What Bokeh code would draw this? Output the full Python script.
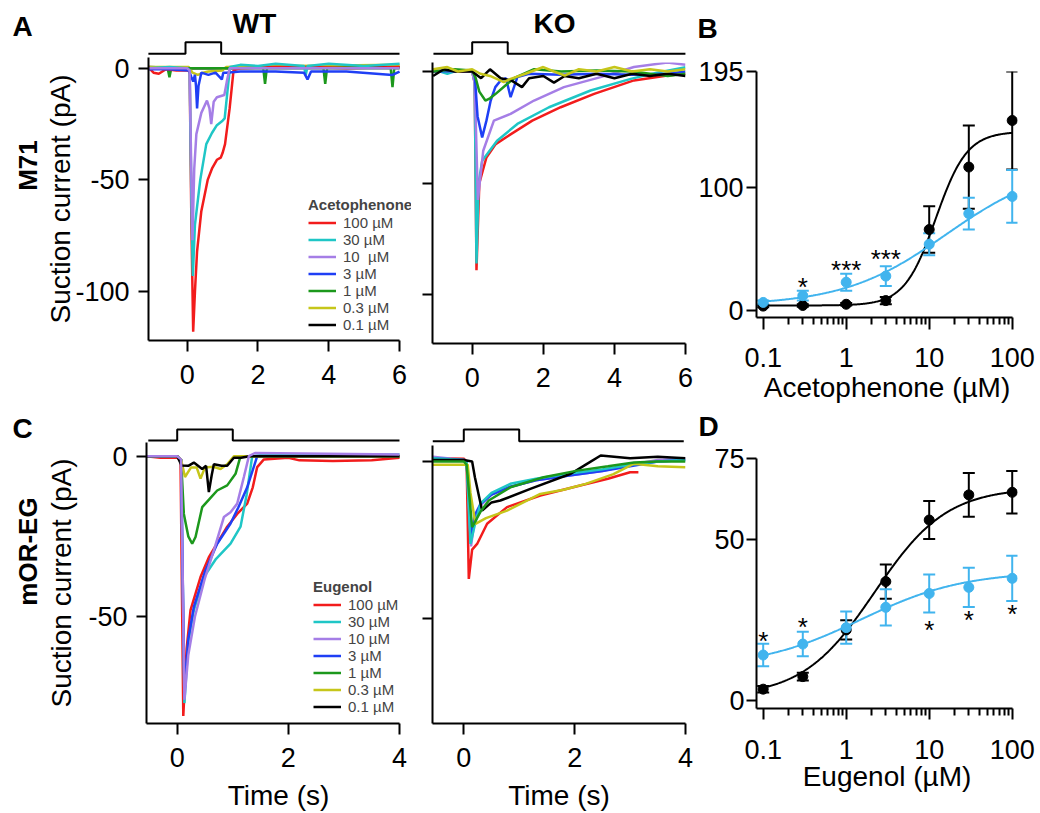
import numpy as np
from bokeh.plotting import figure
from bokeh.layouts import row, column
from bokeh.models import (Range1d, FixedTicker, Label, Legend, LegendItem,
                          ColumnDataSource, Whisker, TeeHead)
from bokeh.core.properties import value
from bokeh.embed import file_html
from bokeh.resources import INLINE

FONT = "Liberation Sans"
RED, CYAN, PURPLE, BLUE = "#f21c1c", "#1fc6c6", "#a57ee6", "#1f3ff5"
GREEN, YELLOW, BLACK, SKY = "#1c981c", "#c6c61a", "#000000", "#41b4ee"
TRACE_W = 2.5

# ---------------- data: legends ----------------
ace_labels = ["100 µM", "30 µM", "10  µM", "3 µM", "1 µM", "0.3 µM", "0.1 µM"]
eug_labels = ["100 µM", "30 µM", "10 µM", "3 µM", "1 µM", "0.3 µM", "0.1 µM"]

# ---------------- data: stimulus (odor on 0-1 s) ----------------
stim_a_wt_t = [-1.04, 0, 0, 1, 1, 6]
stim_a_ko_t = [-1.09, 0, 0, 1, 1, 6]
stim_c_wt_t = [-0.52, 0, 0, 1, 1, 4]
stim_c_ko_t = [-0.56, 0, 0, 1, 1, 3.97]
stim_level = [0, 0, 1, 1, 0, 0]

# ---------------- data: A, WT (acetophenone), time s / current pA ----------------
aw100_t = [-1.1, -0.95, -0.8, -0.6, -0.3, 0.0, 0.07, 0.12, 0.17, 0.22, 0.28, 0.4, 0.58, 0.7, 0.84, 0.95, 1.0, 1.07, 1.2, 1.31, 1.5, 2.5, 3.5, 4.5, 6.0]
aw100_i = [0.5, -2.0, -2.5, -0.5, -1.0, -1.0, -1.5, -70, -118, -100, -82, -64, -50, -45, -41, -40, -38, -34, -18, -1.0, 0.0, 0.5, 0.5, 0.0, 0.5]
aw30_t = [-1.1, -0.5, 0.0, 0.07, 0.12, 0.16, 0.22, 0.37, 0.54, 0.7, 0.84, 1.0, 1.06, 1.14, 1.21, 1.5, 2.0, 2.5, 3.3, 3.35, 3.4, 4.0, 5.0, 6.0]
aw30_i = [0.0, 0.5, 0.0, -1.0, -60, -93, -70, -50, -34, -29, -25.5, -23.5, -22.5, -10, 0.5, 1.5, 1.0, 2.0, 1.0, -3.0, 1.0, 2.0, 1.0, 2.0]
aw10_t = [-1.1, 0.0, 0.07, 0.11, 0.15, 0.2, 0.26, 0.4, 0.56, 0.63, 0.68, 0.75, 0.84, 1.05, 1.12, 1.2, 1.5, 3.0, 6.0]
aw10_i = [0.0, 0.0, -1.0, -40, -77, -45, -29.5, -20, -14.5, -18, -25, -15, -13, -12, -6, 0.0, 0.0, 0.0, 0.0]
aw3_t = [-1.1, -0.5, 0.05, 0.12, 0.17, 0.22, 0.25, 0.28, 0.32, 0.4, 0.6, 0.8, 0.98, 1.02, 1.1, 1.5, 2.5, 3.3, 3.4, 3.5, 4.5, 5.8, 6.0]
aw3_i = [-0.5, -0.5, -1.0, -4.0, -6.0, -3.0, -8.0, -18, -8.0, -2.0, -3.0, -2.0, -5.0, -2.0, -2.0, -1.5, -1.5, -2.0, -5.0, -1.5, -1.5, -3.0, -1.5]
aw1_t = [-1.1, -0.55, -0.5, -0.45, 0.0, 1.0, 2.15, 2.2, 2.25, 3.85, 3.9, 3.95, 5.75, 5.8, 5.85, 6.0]
aw1_i = [0.0, 0.0, -4.0, 0.0, 0.0, 0.0, 0.0, -7.0, 0.0, 0.0, -7.0, 0.0, 0.0, -8.5, 0.0, 0.0]
aw03_t = [-1.1, 0.05, 0.15, 0.3, 0.45, 0.6, 1.0, 1.1, 3.0, 6.0]
aw03_i = [0.5, 0.5, -2.0, -3.0, -2.0, -1.5, -1.0, 0.5, 1.0, 1.5]
aw01_t = [-1.1, 0.0, 1.0, 3.0, 6.0]
aw01_i = [0.5, 0.0, 0.0, 0.5, 0.5]

# ---------------- data: A, KO ----------------
ak100_t = [-1.1, 0.0, 0.07, 0.12, 0.2, 0.4, 0.66, 1.0, 1.69, 2.49, 3.43, 4.55, 5.49, 6.0]
ak100_i = [0.0, 0.0, -5.0, -89, -50, -38.5, -32.5, -29, -22, -16, -10, -4.0, -1.8, -1.0]
ak30_t = [-1.1, -0.7, -0.4, 0.0, 0.07, 0.12, 0.18, 0.28, 0.7, 1.27, 2.16, 3.33, 4.46, 5.2, 6.0]
ak30_i = [1.0, -1.0, 0.5, 0.0, -5.0, -86, -50, -40, -31, -23.5, -16, -8.5, -3.3, -0.5, 1.9]
ak10_t = [-1.1, 0.0, 0.07, 0.16, 0.31, 0.61, 1.08, 1.74, 2.58, 3.61, 4.55, 5.49, 6.0]
ak10_i = [0.5, 0.0, -5.0, -57.5, -35.5, -22, -19, -13, -7.0, -2.5, 2.0, 4.0, 3.0]
ak3_t = [-1.1, 0.0, 0.07, 0.15, 0.28, 0.4, 0.52, 0.65, 0.8, 0.95, 1.08, 1.27, 1.6, 2.5, 3.5, 4.5, 5.5, 6.0]
ak3_i = [0.0, 0.5, -1.0, -20, -29.5, -22, -13, -7.0, -4.0, -3.0, -11.5, -2.5, -1.0, -1.5, -1.0, -1.5, -1.0, 0.0]
ak1_t = [-1.1, -0.5, 0.0, 0.1, 0.2, 0.37, 0.5, 0.66, 0.99, 1.22, 1.74, 2.5, 3.5, 4.5, 5.5, 6.0]
ak1_i = [0.0, 1.0, 0.5, -3.0, -9.0, -13, -12, -10, -5.5, -2.6, 1.0, 0.0, 0.5, 0.0, -2.0, -1.0]
ak03_t = [-1.1, -0.7, -0.4, 0.0, 0.23, 0.5, 0.89, 1.08, 1.5, 2.0, 2.3, 2.6, 3.0, 3.5, 4.0, 4.5, 5.0, 5.5, 6.0]
ak03_i = [1.0, 2.0, 0.0, 1.0, -1.0, -2.0, -4.8, -3.3, -1.0, 2.0, 0.0, -1.8, 1.0, 0.0, 2.0, 0.0, 1.0, 0.0, 1.0]
ak01_t = [-1.1, -0.8, -0.5, 0.0, 0.25, 0.5, 0.8, 1.1, 1.4, 1.6, 2.0, 2.3, 2.6, 3.0, 3.5, 4.0, 4.5, 5.0, 5.5, 6.0]
ak01_i = [-2.0, 1.0, 0.0, 0.0, -3.0, 1.0, -3.0, -4.0, -7.0, -3.0, -2.0, -5.0, -2.0, -3.0, -1.0, -3.0, -1.0, -2.0, -1.0, -2.0]

# ---------------- data: C, WT (eugenol) ----------------
cw100_t = [-0.56, -0.3, 0.0, 0.06, 0.11, 0.17, 0.24, 0.42, 0.57, 0.9, 1.08, 1.26, 1.36, 1.44, 1.56, 2.0, 2.2, 2.8, 3.5, 4.0]
cw100_i = [0.0, -0.5, -0.5, -1.0, -81, -60, -48, -37.7, -31.5, -22, -18, -14.8, -9.7, -3.4, -1.0, -0.5, -1.3, -1.5, -1.3, -0.5]
cw30_t = [-0.56, 0.0, 0.07, 0.13, 0.2, 0.3, 0.48, 0.7, 0.96, 1.14, 1.25, 1.35, 1.6, 4.0]
cw30_i = [0.0, 0.0, -1.0, -77, -58, -48, -37.7, -32, -27.3, -22, -12, 0.0, 0.5, 0.5]
cw10_t = [-0.56, 0.0, 0.07, 0.13, 0.2, 0.32, 0.5, 0.66, 0.84, 0.96, 1.08, 1.2, 1.29, 1.4, 4.0]
cw10_i = [0.0, 0.0, -1.0, -76, -62, -50, -38, -29.4, -19, -17.5, -14.8, -6.5, 0.0, 1.0, 0.5]
cw3_t = [-0.56, 0.0, 0.07, 0.13, 0.2, 0.3, 0.5, 0.72, 0.96, 1.1, 1.26, 1.44, 1.6, 4.0]
cw3_i = [0.0, 0.0, -1.0, -74, -57, -47, -36, -27.3, -21, -16, -9.7, 0.0, 0.0, 0.0]
cw1_t = [-0.56, 0.0, 0.07, 0.12, 0.2, 0.27, 0.33, 0.45, 0.6, 0.72, 0.9, 1.05, 1.14, 1.3, 4.0]
cw1_i = [0.0, 0.0, -1.0, -18, -25, -27.3, -25.2, -15.9, -13, -10.7, -9.1, -5.5, 0.0, 0.0, 0.0]
cw03_t = [-0.56, 0.0, 0.07, 0.14, 0.25, 0.35, 0.42, 0.5, 0.65, 0.78, 0.9, 1.02, 4.0]
cw03_i = [0.0, 0.0, -1.0, -6.5, -3.5, -3.5, -7.0, -3.5, -3.3, -4.0, -2.5, 0.0, 0.0]
cw01_t = [-0.56, 0.0, 0.08, 0.2, 0.3, 0.45, 0.52, 0.57, 0.62, 0.66, 0.8, 0.9, 1.02, 1.15, 1.3, 4.0]
cw01_i = [0.0, 0.0, -2.9, -3.0, -2.0, -4.0, -3.0, -11.2, -6.0, -2.5, -3.0, -3.0, -0.5, -0.5, 0.0, 0.0]

# ---------------- data: C, KO ----------------
ck100_t = [-0.56, 0.0, 0.05, 0.09, 0.15, 0.24, 0.42, 0.78, 1.38, 2.1, 2.6, 3.0, 3.15]
ck100_i = [1.0, 0.9, 0.0, -37.3, -28, -26.2, -19.8, -14.5, -10.8, -7.6, -5.5, -3.4, -3.4]
ck30_t = [-0.56, 0.0, 0.05, 0.12, 0.2, 0.3, 0.5, 0.84, 1.3, 1.87, 2.5, 3.0, 3.5, 4.0]
ck30_i = [1.0, 0.5, 0.0, -26.2, -20, -13.4, -10, -7.1, -5.5, -3.9, -2.5, -1.0, 0.0, 0.5]
ck10_t = [-0.56, 0.0, 0.05, 0.13, 0.2, 0.3, 0.5, 0.84, 1.3, 1.87, 2.5, 3.0, 3.5, 4.0]
ck10_i = [1.5, 0.5, 0.0, -27, -18, -14, -10.5, -8.0, -6.0, -4.5, -3.0, -1.0, 0.5, 1.0]
ck3_t = [-0.56, 0.0, 0.05, 0.14, 0.2, 0.3, 0.5, 0.84, 1.3, 1.87, 2.5, 3.0, 3.5, 4.0]
ck3_i = [1.0, 0.5, 0.0, -24, -17, -13.5, -10.5, -8.0, -6.0, -4.5, -3.0, -1.5, 0.0, 0.5]
ck1_t = [-0.56, 0.0, 0.05, 0.15, 0.3, 0.45, 0.84, 1.44, 2.05, 2.6, 3.07, 3.5, 4.0]
ck1_i = [0.0, 0.0, -1.0, -20.9, -16, -12.4, -8.2, -5.0, -2.9, -1.5, -0.3, 0.0, 0.0]
ck03_t = [-0.56, 0.0, 0.07, 0.12, 0.21, 0.4, 0.78, 1.38, 1.8, 2.2, 2.7, 3.07, 3.5, 4.0]
ck03_i = [-1.0, -1.0, -1.0, -10, -19.8, -18, -15.6, -10.3, -9.0, -7.1, -4.0, -0.7, -1.5, -1.8]
ck01_t = [-0.56, 0.0, 0.15, 0.2, 0.33, 0.5, 0.66, 1.2, 1.93, 2.2, 2.47, 3.0, 3.5, 4.0]
ck01_i = [0.5, 0.5, 0.0, -5.0, -15.6, -13, -12.4, -8.7, -3.9, -1.0, 1.9, 1.0, 1.5, 1.0]

# ---------------- data: dose-response (B: acetophenone, D: eugenol) ----------------
conc = [0.1, 0.3, 1, 3, 10, 30, 100]
b_wt_mean = [3.5, 4, 5, 8, 66, 117, 155]
b_wt_err = [1, 1, 1, 3, 19, 34, 40]
b_ko_mean = [6.5, 12, 23, 28, 54, 79, 93]
b_ko_err = [1.5, 4, 7, 8, 9, 13, 21.5]
b_wt_fit = [4, 146, 12, 2.3]      # bottom, top, EC50, Hill slope
b_ko_fit = [4, 120, 16, 0.7]
b_star_x = [0.3, 1, 3]
b_star_y = [19.3, 32.7, 41.6]
b_star_txt = ["*", "***", "***"]

d_wt_mean = [3.4, 7.3, 21.8, 36.8, 55.9, 63.7, 64.5]
d_wt_err = [1, 1.2, 3, 5.3, 5.9, 6.8, 6.6]
d_ko_mean = [14, 17.4, 22.5, 28.8, 33.1, 35.0, 37.8]
d_ko_err = [3.5, 3.8, 5, 5.6, 5.9, 6.1, 7.0]
d_wt_fit = [1, 66, 2.2, 1.0]
d_ko_fit = [10, 40, 1.5, 0.7]
d_star_x = [0.1, 0.3, 10, 30, 100]
d_star_y = [18.4, 22.6, 21.8, 24.9, 26.8]
d_star_txt = ["*", "*", "*", "*", "*"]


# ---------------- helpers ----------------
def style_axis(ax, tick_out, standoff, size="27px"):
    ax.axis_line_width = 2
    ax.axis_line_color = "black"
    ax.major_tick_line_width = 2
    ax.major_tick_line_color = "black"
    ax.major_tick_in = 0
    ax.major_tick_out = tick_out
    ax.minor_tick_in = 0
    ax.minor_tick_out = 0
    ax.minor_tick_line_width = 2
    ax.minor_tick_line_color = "black"
    ax.major_label_text_font = FONT
    ax.major_label_text_font_size = size
    ax.major_label_text_color = "black"
    ax.major_label_standoff = standoff
    ax.axis_label_text_font = FONT
    ax.axis_label_text_font_size = "28px"
    ax.axis_label_text_font_style = "normal"
    ax.axis_label_text_color = "black"


def new_fig(w, h, xr, yr, **kw):
    p = figure(width=w, height=h, x_range=Range1d(*xr), y_range=Range1d(*yr),
               toolbar_location=None, output_backend="svg", **kw)
    p.frame_align = False
    p.outline_line_color = None
    return p


def set_borders(p, l, r, t, b):
    p.min_border_left = l
    p.min_border_right = r
    p.min_border_top = t
    p.min_border_bottom = b


def plain_fig(w, h, xr=(0, 1), yr=(0, 1)):
    p = new_fig(w, h, xr, yr, x_axis_type=None, y_axis_type=None)
    set_borders(p, 0, 0, 0, 0)
    return p


def stim_fig(w, h, xr, yr, stim_t):
    p = plain_fig(w, h, xr, yr)
    p.line(stim_t, stim_level, line_color="black", line_width=2)
    return p


def trace_fig(w, h, xr, xbounds, yr, borders, xticks, yticks, show_ylabels, ylab_standoff=0):
    p = new_fig(w, h, xr, yr)
    set_borders(p, *borders)
    p.xgrid.visible = False
    p.ygrid.visible = False
    xa, ya = p.xaxis[0], p.yaxis[0]
    style_axis(xa, 11, 13)
    style_axis(ya, 10, 9)
    xa.bounds = xbounds
    xa.ticker = FixedTicker(ticks=xticks)
    ya.ticker = FixedTicker(ticks=yticks)
    if show_ylabels:
        ya.major_label_overrides = {v: f"{v:g}" for v in yticks}
        ya.axis_label = "Suction current (pA)"
        ya.axis_label_standoff = ylab_standoff
    else:
        ya.major_label_overrides = {v: "" for v in yticks}
        ya.major_label_standoff = 0
    return p


def draw_traces(p, traces, order):
    rs = {}
    for k in order:
        t, i, c = traces[k]
        rs[k] = p.line(t, i, line_color=c, line_width=TRACE_W)
    return [rs[k] for k in range(len(traces))]


def add_legend(p, renderers, labels, title, loc):
    items = [LegendItem(label=l, renderers=[r]) for l, r in zip(labels, renderers)]
    lg = Legend(items=items, title=title, location=loc, orientation="vertical",
                title_text_font=FONT, title_text_font_size="15px",
                title_text_font_style="bold", title_standoff=1,
                label_text_font=FONT, label_text_font_size="15px",
                glyph_width=28, glyph_height=17, label_height=17,
                label_standoff=7, spacing=0, padding=0, margin=0,
                border_line_color=None, background_fill_alpha=0)
    p.add_layout(lg)


def text_label(p, sx, sy, txt, size="28px", align="left", angle=0, baseline="alphabetic"):
    p.add_layout(Label(x=sx, y=sy, x_units="screen", y_units="screen", text=txt,
                       text_font=FONT, text_font_size=size, text_font_style="bold",
                       text_align=align, text_baseline=baseline, text_color="black",
                       angle=angle, angle_units="deg"))


def hill(x, prm):
    b, t, ec, n = prm
    return b + (t - b) / (1.0 + (ec / x) ** n)


DOSE_X = (0.08305, 115.8)


def dose_fig(w, h, yr, borders, yticks, ytick_standoff, major_out, minor_out,
             label_standoff, xlabel, xlabel_standoff):
    p = new_fig(w, h, DOSE_X, yr, x_axis_type="log")
    set_borders(p, *borders)
    p.xgrid.visible = False
    p.ygrid.visible = False
    xa, ya = p.xaxis[0], p.yaxis[0]
    style_axis(xa, major_out, label_standoff)
    xa.minor_tick_out = minor_out
    style_axis(ya, 10, ytick_standoff)
    xa.bounds = (DOSE_X[0], 100)
    xa.ticker = FixedTicker(ticks=[0.1, 1, 10, 100],
                            minor_ticks=[m * 10.0 ** k for k in (-1, 0, 1) for m in range(2, 10)])
    xa.major_label_overrides = {0.1: "0.1", 1: "1", 10: "10", 100: "100"}
    xa.axis_label = xlabel
    xa.axis_label_standoff = xlabel_standoff
    ya.ticker = FixedTicker(ticks=yticks)
    ya.major_label_overrides = {v: f"{v:g}" for v in yticks}
    return p


def dose_series(p, mean, err, fit, color):
    lo = [m - e for m, e in zip(mean, err)]
    hi = [m + e for m, e in zip(mean, err)]
    src = ColumnDataSource(dict(x=conc, lower=lo, upper=hi))
    p.add_layout(Whisker(source=src, base="x", lower="lower", upper="upper",
                         line_color=color, line_width=2,
                         upper_head=TeeHead(size=12, line_color=color, line_width=2),
                         lower_head=TeeHead(size=12, line_color=color, line_width=2)))
    xs = np.logspace(-1, 2, 300)
    p.line(xs, hill(xs, fit), line_color=color, line_width=2)
    p.scatter(conc, mean, size=10, marker="circle", fill_color=color, line_color=color)


# ---------------- left strips (panel letters + row titles) ----------------
leftA = plain_fig(42, 405)
text_label(leftA, 12, 379.2, "A")
text_label(leftA, 27, 240, "M71", size="26px", align="center", angle=90, baseline="middle")
leftC = plain_fig(42, 408)
text_label(leftC, 12, 385.5, "C")
text_label(leftC, 27, 262, "mOR-EG", size="26px", align="center", angle=90, baseline="middle")

# ---------------- Panel A ----------------
sA_wt = stim_fig(373, 57, (-4.009, 6.448), (-0.319, 4.595), stim_a_wt_t)
sA_ko = stim_fig(279, 57, (-1.595, 6.255), (-0.319, 4.595), stim_a_ko_t)
text_label(sA_wt, 212, 33.7, "WT", align="center")
text_label(sA_ko, 139, 33.7, "KO", align="center")

tA_wt = trace_fig(373, 348, (-1.092, 6.337), (-1.092, 6), (-121.9, 4.79), (104, 4, 0, 65),
                  [0, 2, 4, 6], [0, -50, -100], True, -4)
tA_ko = trace_fig(279, 348, (-1.117, 6), (-1.117, 6), (-121.8, 4.03), (17, 9, 5, 62),
                  [0, 2, 4, 6], [0, -50, -100], False)

aw = [(aw100_t, aw100_i, RED), (aw30_t, aw30_i, CYAN), (aw10_t, aw10_i, PURPLE), (aw3_t, aw3_i, BLUE),
      (aw1_t, aw1_i, GREEN), (aw03_t, aw03_i, YELLOW), (aw01_t, aw01_i, BLACK)]
ak = [(ak100_t, ak100_i, RED), (ak30_t, ak30_i, CYAN), (ak10_t, ak10_i, PURPLE), (ak3_t, ak3_i, BLUE),
      (ak1_t, ak1_i, GREEN), (ak03_t, ak03_i, YELLOW), (ak01_t, ak01_i, BLACK)]
r_aw = draw_traces(tA_wt, aw, [6, 5, 4, 0, 1, 3, 2])
draw_traces(tA_ko, ak, [0, 1, 2, 3, 4, 6, 5])
add_legend(tA_wt, r_aw, ace_labels, "Acetophenone", (160, 7.5))

# ---------------- Panel B ----------------
hB = plain_fig(346, 52)
text_label(hB, 3, 24.5, "B")
pB = dose_fig(346, 353, (-5.8, 195), (62, 23, 19, 85), [0, 100, 195], 3, 12, 7, 18,
              "Acetophenone (µM)", 2)
dose_series(pB, b_wt_mean, b_wt_err, b_wt_fit, BLACK)
dose_series(pB, b_ko_mean, b_ko_err, b_ko_fit, SKY)
pB.text(b_star_x, b_star_y, text=b_star_txt, text_font=value(FONT), text_font_size="26px",
        text_align="center", text_baseline="alphabetic", text_color="black")

# ---------------- Panel C ----------------
sC_wt = stim_fig(373, 37, (-2.424, 4.288), (-0.182, 3.182), stim_c_wt_t)
sC_ko = stim_fig(279, 40, (-0.8715, 4.164), (-0.368, 3.051), stim_c_ko_t)

tC_wt = trace_fig(373, 371, (-0.552, 4.198), (-0.552, 4), (-83.38, 4.27), (104, 5, 0, 90),
                  [0, 2, 4], [0, -50], True, 8)
tC_ko = trace_fig(279, 368, (-0.565, 4), (-0.565, 4), (-83.28, 5.09), (17, 9, 0, 90),
                  [0, 2, 4], [0, -50], False)
for p_ in (tC_wt, tC_ko):
    p_.xaxis[0].axis_label = "Time (s)"
    p_.xaxis[0].axis_label_standoff = 10

cw = [(cw100_t, cw100_i, RED), (cw30_t, cw30_i, CYAN), (cw10_t, cw10_i, PURPLE), (cw3_t, cw3_i, BLUE),
      (cw1_t, cw1_i, GREEN), (cw03_t, cw03_i, YELLOW), (cw01_t, cw01_i, BLACK)]
ck = [(ck100_t, ck100_i, RED), (ck30_t, ck30_i, CYAN), (ck10_t, ck10_i, PURPLE), (ck3_t, ck3_i, BLUE),
      (ck1_t, ck1_i, GREEN), (ck03_t, ck03_i, YELLOW), (ck01_t, ck01_i, BLACK)]
r_cw = draw_traces(tC_wt, cw, [0, 1, 3, 4, 5, 6, 2])
draw_traces(tC_ko, ck, [0, 2, 3, 1, 6, 5, 4])
add_legend(tC_wt, r_cw, eug_labels, "Eugenol", (167, 7.8))

# ---------------- Panel D ----------------
hD = plain_fig(346, 36)
text_label(hD, 4, 15, "D")
pD = dose_fig(346, 372, (-2.6, 75), (62, 23, 17, 105), [0, 50, 75], 2, 11, 7, 20,
              "Eugenol (µM)", -1)
dose_series(pD, d_wt_mean, d_wt_err, d_wt_fit, BLACK)
dose_series(pD, d_ko_mean, d_ko_err, d_ko_fit, SKY)
pD.text(d_star_x, d_star_y, text=d_star_txt, text_font=value(FONT), text_font_size="26px",
        text_align="center", text_baseline="alphabetic", text_color="black")

# ---------------- layout ----------------
top = row(leftA, column(sA_wt, tA_wt), column(sA_ko, tA_ko), column(hB, pB))
bottom = row(leftC, column(sC_wt, tC_wt), column(sC_ko, tC_ko), column(hD, pD))
layout = column(top, bottom)

open("out.html", "w").write(file_html(layout, INLINE))
